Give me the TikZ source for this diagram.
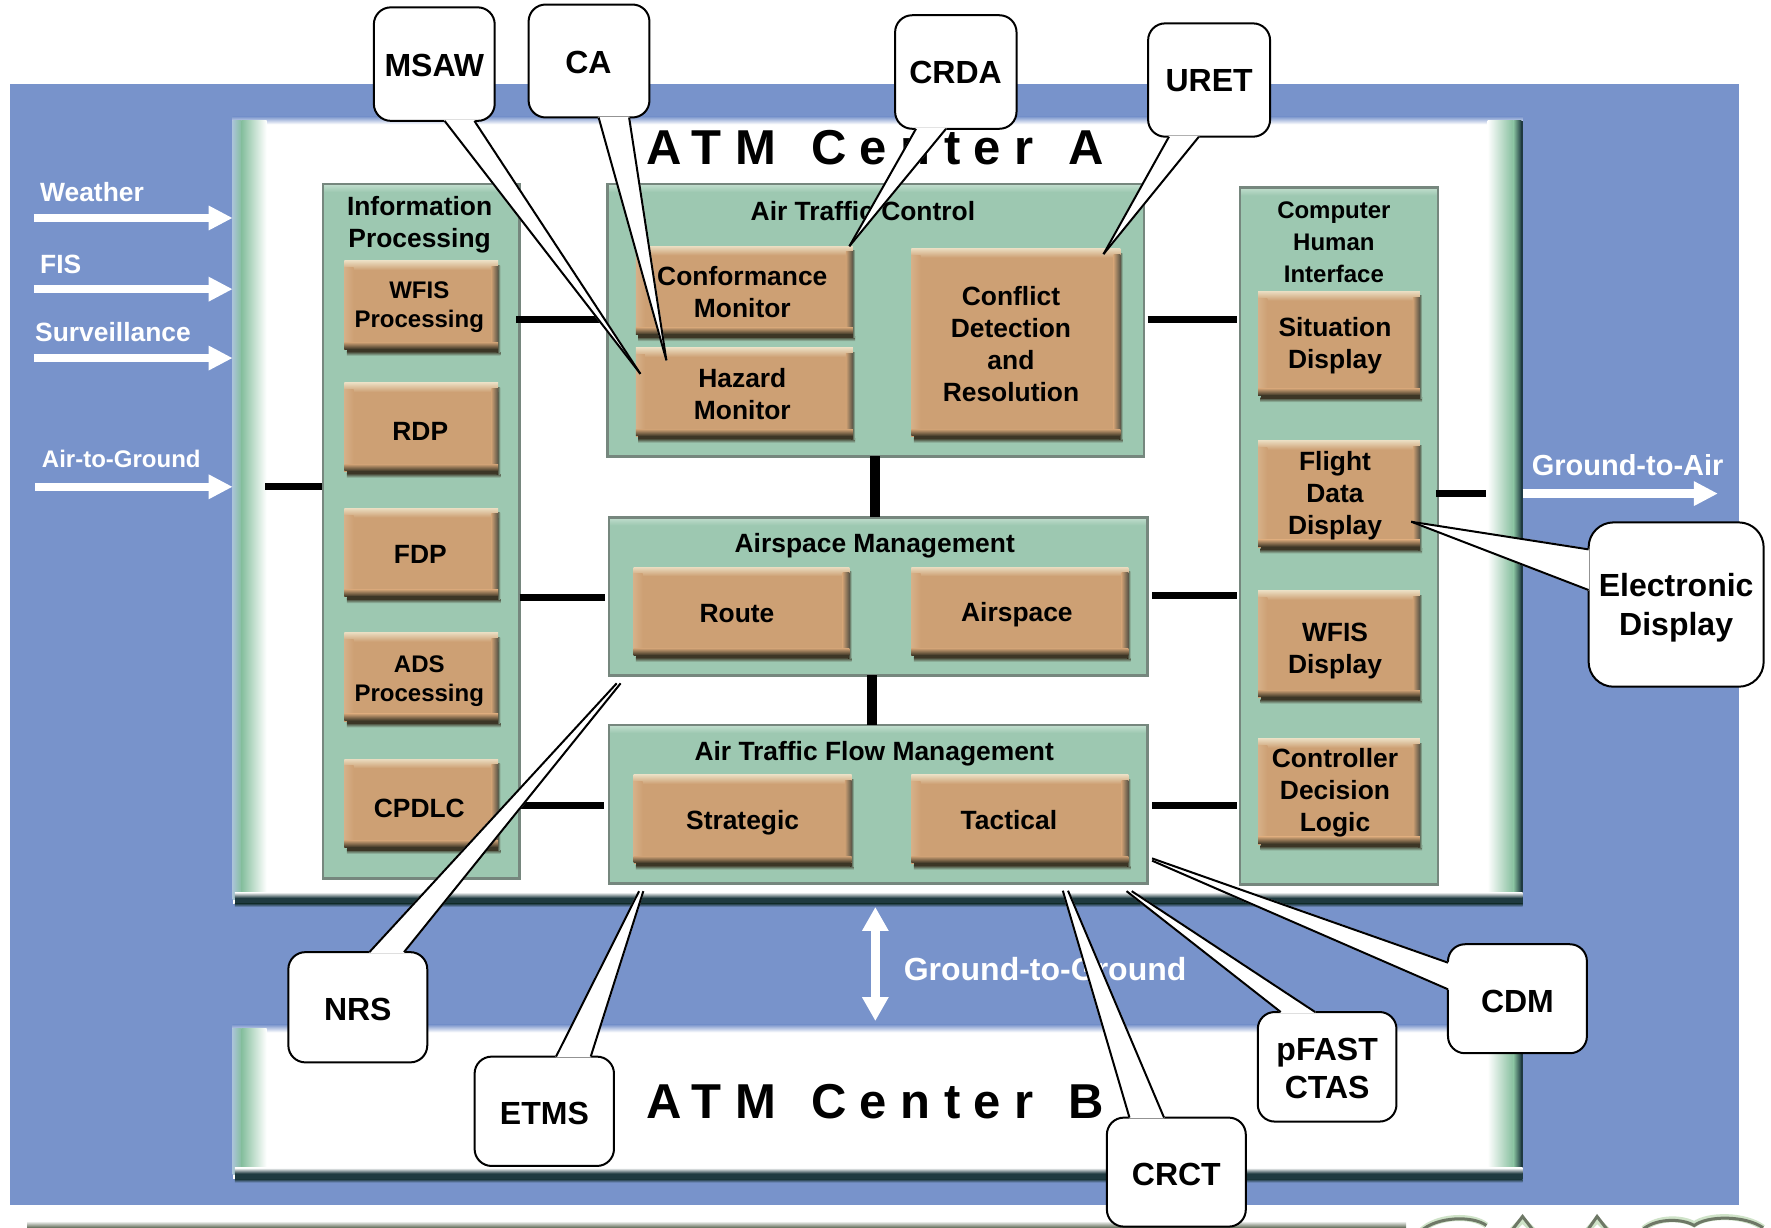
\documentclass[tikz,border=0pt]{standalone}
\usepackage{fontspec}
\setmainfont{Liberation Sans}
\newfontfamily\atmtitlefont[LetterSpace=27.5,WordSpace=1.3]{Liberation Sans}
\usetikzlibrary{arrows.meta,calc}
\definecolor{bluebg}{HTML}{7893CB}
\definecolor{orgbody}{HTML}{CDA074}
\definecolor{orgtop}{HTML}{EADCC0}
\definecolor{orgleft}{HTML}{D6B088}
\definecolor{orgdark}{HTML}{3C3626}
\definecolor{pgreen}{HTML}{9DC8B1}
\definecolor{plight}{HTML}{C3DFCF}
\definecolor{pedge}{HTML}{76877E}
\definecolor{wgreen}{HTML}{86BF9E}
\definecolor{wdark}{HTML}{1F3A40}
\definecolor{wedge}{HTML}{A9C4D6}
\definecolor{logogray}{HTML}{6E7866}
\definecolor{logogreen}{HTML}{CFE3C8}
\tikzset{
  boxtext/.style={font=\fontsize{26.4}{32}\selectfont\bfseries,align=center,inner sep=0pt,outer sep=0pt,text=black},
  smalltext/.style={font=\fontsize{24}{29.8}\selectfont\bfseries,align=center,inner sep=0pt,outer sep=0pt,text=black},
  titletext/.style={boxtext},
  chititle/.style={font=\fontsize{24}{31.6}\selectfont\bfseries,align=center,inner sep=0pt,text=black},
  whitelabel/.style={anchor=base west,inner sep=0pt,text=white,font=\fontsize{26.4}{32}\selectfont\bfseries},
  bigtitle/.style={anchor=base,inner sep=0pt,font=\atmtitlefont\fontsize{49}{55}\selectfont\bfseries},
  link/.style={line width=7pt,draw=black},
  vlink/.style={line width=10pt,draw=black},
  whitearrow/.style={line width=8.5pt,draw=white,-{Triangle[length=24pt,width=23pt,fill=white]}},
  whitedouble/.style={line width=9pt,draw=white,{Triangle[length=24pt,width=25pt,fill=white]}-{Triangle[length=24pt,width=25pt,fill=white]}},
  calloutbox/.style={draw=black,fill=white,line width=2pt,inner sep=0pt},
  callouttext/.style={inner sep=0pt,align=center,font=\fontsize{32}{38.3}\selectfont\bfseries,text=black},
  tailline/.style={draw=black,line width=2pt,line join=miter},
  logostroke/.style={draw=logogray,line width=3pt},
  logohalo/.style={draw=logogreen,line width=6pt}
}
\newcommand{\geom}[4]{%
  \pgfmathsetmacro{\gcx}{(#1+#3)/2}%
  \pgfmathsetmacro{\gcy}{(#2+#4)/2}%
  \pgfmathsetmacro{\gw}{(#3-#1)*1.129464}%
  \pgfmathsetmacro{\gh}{(#4-#2)*1.129464}%
}
% name x1 y1 x2 y2 style text
\newcommand{\orangebox}[7]{%
  \geom{#2}{#3}{#4}{#5}%
  \shade[top color=orgdark,bottom color=pgreen] (#2+2,#5-1) rectangle (#4+2,#5+3);
  \shade[left color=orgdark,right color=pgreen] (#4-1,#3+3) rectangle (#4+2,#5);
  \fill[orgbody] (#2,#3) rectangle (#4,#5-2);
  \shade[top color=orgtop,bottom color=orgbody] (#2,#3-1) rectangle (#4,#3+7);
  \shade[left color=orgleft,right color=orgbody] (#2,#3+5) rectangle (#2+8,#5-6);
  \shade[left color=orgbody,right color=orgdark!85] (#4-6,#3+4) rectangle (#4,#5-4);
  \shade[top color=orgbody,bottom color=orgdark] (#2,#5-9) rectangle (#4,#5-3);
  \fill[orgdark] (#2+2,#5-3) rectangle (#4,#5);
  \node[#6,minimum width=\gw pt,minimum height=\gh pt] (#1) at (\gcx,\gcy) {#7};
}
% name x1 y1 x2 y2
\newcommand{\greenpanel}[5]{%
  \geom{#2}{#3}{#4}{#5}%
  \fill[pgreen] (#2,#3) rectangle (#4,#5);
  \shade[top color=plight,bottom color=pgreen] (#2,#3) rectangle (#4,#3+7);
  \node[draw=pedge,line width=2.5pt,inner sep=0pt,outer sep=0pt,minimum width=\gw pt,minimum height=\gh pt] (#1) at (\gcx,\gcy) {};
}
% name x1 y1 x2 y2
\newcommand{\whitepanel}[5]{%
  \geom{#2}{#3}{#4}{#5}%
  \node[fill=white,inner sep=0pt,outer sep=0pt,minimum width=\gw pt,minimum height=\gh pt] (#1) at (\gcx,\gcy) {};
  \shade[top color=bluebg,bottom color=white] (#2,#3-1) rectangle (#4,#3+6);
  \shade[left color=wedge,right color=wgreen] (#2,#3+3) rectangle (#2+8,#5-4);
  \shade[left color=wgreen,right color=white] (#2+8,#3+3) rectangle (#2+30,#5-5);
  \shade[left color=white,right color=wgreen] (#4-31,#3+3) rectangle (#4-8,#5-5);
  \shade[left color=wgreen,right color=wdark] (#4-8,#3+3) rectangle (#4-1,#5-5);
  \fill[wdark] (#4-1,#3+3) rectangle (#4,#5);
  \shade[top color=white,bottom color=wdark] (#2+2,#5-10) rectangle (#4,#5-5);
  \fill[wdark] (#2+2,#5-5) rectangle (#4,#5);
  \shade[top color=wdark,bottom color=bluebg] (#2+2,#5) rectangle (#4,#5+3);
}
% name x1 y1 x2 y2 radius
\newcommand{\callout}[6]{%
  \geom{#2}{#3}{#4}{#5}%
  \node[calloutbox,rounded corners=#6,minimum width=\gw pt,minimum height=\gh pt] (#1) at (\gcx,\gcy) {};
}
% a ta tb b
\newcommand{\tail}[4]{%
  \fill[white,draw=white,line width=1.6pt,line join=bevel] (#1) -- (#2) -- (#3) -- (#4) -- cycle;
  \draw[tailline] (#1) -- (#2);
  \draw[tailline] (#3) -- (#4);
}
\begin{document}
\begin{tikzpicture}[x=1.129464pt,y=-1.129464pt]
\useasboundingbox (0,0) rectangle (1568,1086.36);
\fill[white] (0,0) rectangle (1568,1086.36);
\fill[bluebg] (9,74) rectangle (1540,1067);
% bottom rule and cropped logo
\shade[top color=white,bottom color=logogray] (24,1081) rectangle (1245,1086.36);
\draw[logohalo] (1258,1090) .. controls (1272,1076) and (1304,1075) .. (1316,1085);
\draw[logostroke] (1258,1090) .. controls (1272,1077) and (1304,1076) .. (1316,1085);
\draw[logohalo] (1338,1090) -- (1348,1080) -- (1358,1090);
\draw[logostroke] (1338,1090) -- (1348,1077) -- (1358,1090);
\draw[logohalo] (1405,1090) -- (1414,1080) -- (1424,1090);
\draw[logostroke] (1405,1090) -- (1414,1077) -- (1424,1090);
\draw[logohalo] (1455,1088) .. controls (1468,1077) and (1490,1078) .. (1500,1084) .. controls (1512,1075) and (1545,1075) .. (1561,1087);
\draw[logostroke] (1455,1088) .. controls (1468,1078) and (1490,1079) .. (1500,1085) .. controls (1512,1076) and (1545,1076) .. (1561,1087);
% white panels
\whitepanel{centerA}{206}{104}{1348}{800}
\whitepanel{centerB}{206}{908}{1348}{1044}
\node[bigtitle] (titleA) at (775,146) {ATM Center A};
\node[bigtitle] (titleB) at (775,990) {ATM Center B};
% green panels
\greenpanel{ip}{286}{163}{460}{778}
\greenpanel{atc}{538}{163}{1013}{404}
\greenpanel{am}{539}{458}{1016}{598}
\greenpanel{atfm}{539}{642}{1016}{782}
\greenpanel{chi}{1098}{166}{1273}{783}
\node[titletext] (iptitle) at (371.5,199) {Information\\Processing};
\node[titletext] (atctitle) at (764,187) {Air Traffic Control};
\node[titletext] (amtitle) at (774.5,483) {Airspace Management};
\node[titletext] (atfmtitle) at (774,667.5) {Air Traffic Flow Management};
\node[chititle] (chititle) at (1181,214.5) {Computer\\Human\\Interface};
% orange boxes
\orangebox{wfisp}{305}{232}{441}{312}{smalltext,xshift=-2pt}{WFIS\\Processing}
\orangebox{rdp}{305}{340}{441}{420}{boxtext,xshift=-1pt,yshift=-2pt}{RDP}
\orangebox{fdp}{305}{451}{441}{531}{boxtext,xshift=-1pt}{FDP}
\orangebox{ads}{305}{561}{441}{641}{smalltext,xshift=-2pt,yshift=-2.3pt}{ADS\\Processing}
\orangebox{cpdlc}{305}{673}{441}{753}{boxtext,xshift=-2pt,yshift=-3pt}{CPDLC}
\orangebox{conf}{563}{219}{755}{299}{boxtext,xshift=-2pt}{Conformance\\Monitor}
\orangebox{hazard}{563}{309}{755}{389}{boxtext,xshift=-2pt}{Hazard\\Monitor}
\orangebox{cdr}{807}{221}{992}{389}{boxtext,xshift=-5pt}{Conflict\\Detection\\and\\Resolution}
\orangebox{route}{561}{503}{752}{583}{boxtext,xshift=-4.5pt}{Route}
\orangebox{airspace}{807}{503}{999}{583}{boxtext,xshift=-3pt,yshift=-1pt}{Airspace}
\orangebox{strategic}{561}{687}{754}{767}{boxtext,yshift=-2pt}{Strategic}
\orangebox{tactical}{807}{687}{999}{767}{boxtext,xshift=-11pt,yshift=1pt}{Tactical}
\orangebox{situation}{1114}{259}{1257}{353}{boxtext,xshift=-4pt}{Situation\\Display}
\orangebox{flight}{1114}{391}{1257}{487}{boxtext,xshift=-4pt}{Flight\\Data\\Display}
\orangebox{wfisd}{1114}{524}{1257}{620}{boxtext,xshift=-4pt,yshift=-4.5pt}{WFIS\\Display}
\orangebox{logic}{1114}{655}{1257}{750}{boxtext,xshift=-4pt,yshift=1pt}{Controller\\Decision\\Logic}
% connectors
\coordinate (ya) at (0,283);
\coordinate (yb) at (0,529);
\coordinate (ybr) at (0,527);
\coordinate (yc) at (0,713);
\coordinate (xa) at (775,0);
\coordinate (xb) at (772,0);
\coordinate (stubL) at (235,431);
\coordinate (stubR) at (1316,437);
\draw[link,shorten <=-3.4pt,shorten >=8pt] (ip.east |- ya) -- (atc.west |- ya);
\draw[link,shorten <=3.4pt,shorten >=3.4pt] (atc.east |- ya) -- (chi.west |- ya);
\draw[link,shorten >=3.4pt] (ip.east |- yb) -- (am.west |- yb);
\draw[link,shorten <=4.5pt,shorten >=3.4pt] (am.east |- ybr) -- (chi.west |- ybr);
\draw[link,shorten <=-3.4pt,shorten >=4.5pt] (ip.east |- yc) -- (atfm.west |- yc);
\draw[link,shorten <=4.5pt,shorten >=3.4pt] (atfm.east |- yc) -- (chi.west |- yc);
\draw[vlink] (atc.south -| xa) -- (am.north -| xa);
\draw[vlink] (am.south -| xb) -- (atfm.north -| xb);
\draw[link,shorten >=1pt] (stubL) -- (ip.west |- stubL);
\draw[link,shorten <=-2pt] (chi.east |- stubR) -- (stubR);
% external arrows and labels
\coordinate (wxs) at (30,193);
\coordinate (fiss) at (30,256);
\coordinate (surs) at (30,317);
\coordinate (airs) at (31,431);
\coordinate (g2ae) at (1521,437);
\coordinate (g2gtop) at (775,803);
\coordinate (g2gbot) at (775,904);
\draw[whitearrow] (wxs) -- (centerA.west |- wxs);
\draw[whitearrow] (fiss) -- (centerA.west |- fiss);
\draw[whitearrow] (surs) -- (centerA.west |- surs);
\draw[whitearrow] (airs) -- (centerA.west |- airs);
\draw[whitearrow] (centerA.east |- g2ae) -- (g2ae);
\draw[whitedouble] (g2gtop) -- (g2gbot);
\node[whitelabel] (lwx) at (35.4,178.7) {Weather};
\node[whitelabel] (lfis) at (35.4,242.5) {FIS};
\node[whitelabel] (lsur) at (31,302.6) {Surveillance};
\node[whitelabel,font=\fontsize{24}{28}\selectfont\bfseries] (lair) at (37,414) {Air-to-Ground};
\node[whitelabel,font=\fontsize{29}{34}\selectfont\bfseries] (lg2a) at (1356,420.7) {Ground-to-Air};
\node[whitelabel,font=\fontsize{32}{37}\selectfont\bfseries] (lg2g) at (800,867.8) {Ground-to-Ground};
% callouts
\callout{msaw}{331}{6.5}{438}{107}{17pt}
\tail{393.6,107}{567,331}{567,331}{420,107}
\node[callouttext] (msawt) at (384.5,58) {MSAW};
\callout{ca}{468}{4}{575}{104}{17pt}
\tail{530,104}{590,319}{590,319}{557,104}
\node[callouttext] (cat) at (521,55.5) {CA};
\callout{crda}{792.5}{13.5}{900}{114}{17pt}
\tail{811,114}{752,218}{752,218}{837.6,114}
\node[callouttext] (crdat) at (846,64.5) {CRDA};
\callout{uret}{1016.5}{20.7}{1124.5}{121}{17pt}
\tail{1035,121}{977,225}{977,225}{1061.5,121}
\node[callouttext] (urett) at (1070.5,71.5) {URET};
\callout{edisp}{1406.5}{462.5}{1561.5}{608}{25pt}
\tail{1406.5,486.4}{1249.4,461.9}{1249.4,461.9}{1406.5,522.4}
\node[callouttext] (edispt) at (1484,538) {Electronic\\Display};
\callout{nrs}{255.3}{843}{378.3}{940.6}{17pt}
\tail{327,843}{546,605}{549.5,605}{357.7,843}
\node[callouttext] (nrst) at (316.8,893.5) {NRS};
\callout{etms}{420.2}{935.5}{543.6}{1032.3}{17pt}
\tail{492.3,935.5}{565.8,789}{569.6,789}{523,935.5}
\node[callouttext] (etmst) at (482,985.5) {ETMS};
\callout{crct}{980}{989.5}{1103}{1086}{17pt}
\tail{1000,989.5}{941,788.6}{945.6,788.6}{1030.6,989.5}
\node[callouttext] (crctt) at (1041.5,1039.5) {CRCT};
\callout{pfast}{1113.6}{896}{1236.4}{993}{17pt}
\tail{1133.9,896}{997.4,789}{1002,789}{1164.4,896}
\node[callouttext] (pfastt) at (1175,946) {pFAST\\CTAS};
\callout{cdm}{1282}{836}{1405}{932.5}{17pt}
\tail{1282,852.3}{1020,760}{1020,762}{1282,875.9}
\node[callouttext] (cdmt) at (1343.5,886.5) {CDM};
\end{tikzpicture}
\end{document}
